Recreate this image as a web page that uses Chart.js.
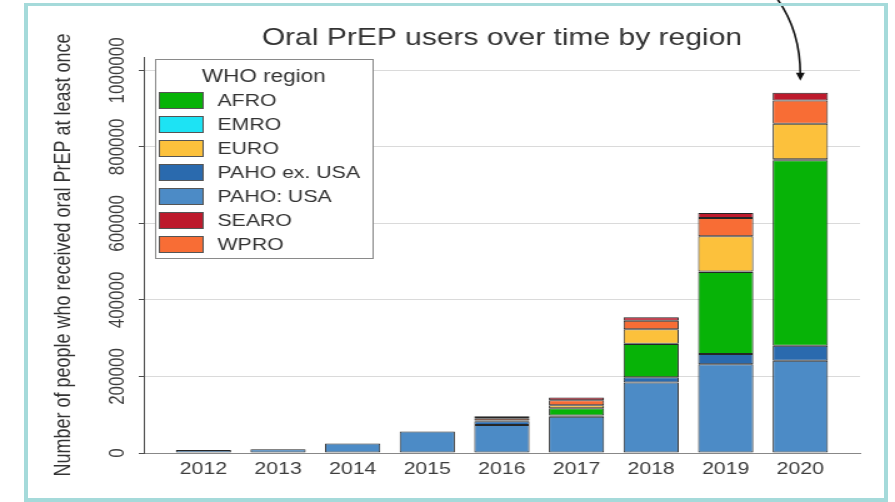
<!DOCTYPE html>
<html>
<head>
<meta charset="utf-8">
<script src="https://cdn.jsdelivr.net/npm/chart.js@4.4.1/dist/chart.umd.min.js"></script>
<style>
  html, body { margin: 0; padding: 0; background: #fff; }
  #wrap { position: relative; width: 895px; height: 502px; overflow: hidden; }
  #frame { position: absolute; left: 24px; top: 3px; width: 864px; height: 499px; box-sizing: border-box;
           border: 4px solid #a5dada; border-top-width: 3px; pointer-events: none; }
</style>
</head>
<body>
<div id="wrap">
  <!-- the reference is stretched sideways, so the canvas is drawn narrow and widened by its inline style -->
  <canvas id="chart" width="716" height="502" style="position:absolute;left:0;top:0;width:895px;height:502px"></canvas>
  <div id="frame"></div>
</div>
<script>
const chartTitle = "Oral PrEP users over time by region";
const yTitle = "Number of people who received oral PrEP at least once";
const legendTitle = "WHO region";

const years = [2012, 2013, 2014, 2015, 2016, 2017, 2018, 2019, 2020];
const yTicks = [0, 200000, 400000, 600000, 800000, 1000000];

// people per region and year
const pahoUsa   = [8000, 10000, 25000, 56000, 73000, 95000, 184000, 232000, 241000];
const pahoExUsa = [0, 0, 0, 0, 10000, 3000, 14000, 27000, 39000];
const afro      = [0, 0, 0, 0, 500, 19000, 87000, 214000, 485000];
const emro      = [0, 0, 0, 0, 0, 0, 500, 1500, 2500];
const euro      = [0, 0, 0, 0, 1500, 8000, 38000, 92000, 93000];
const wpro      = [0, 0, 0, 0, 6000, 13000, 22000, 48000, 61000];
const searo     = [0, 0, 0, 0, 5000, 7000, 9000, 13000, 20000];

const legendOrder = ["AFRO", "EMRO", "EURO", "PAHO ex. USA", "PAHO: USA", "SEARO", "WPRO"];
const stackOrder = ["PAHO: USA", "PAHO ex. USA", "AFRO", "EMRO", "EURO", "WPRO", "SEARO"];

const seriesData = {
  "AFRO": afro, "EMRO": emro, "EURO": euro, "PAHO ex. USA": pahoExUsa,
  "PAHO: USA": pahoUsa, "SEARO": searo, "WPRO": wpro
};
const regionColors = {
  "AFRO": "#07b307", "EMRO": "#1de3f4", "EURO": "#fcc13c", "PAHO ex. USA": "#2a6aae",
  "PAHO: USA": "#4c8bc6", "SEARO": "#bd1a2c", "WPRO": "#f86d35"
};

const FONT = "'Liberation Sans', Arial, Helvetica, sans-serif";
Chart.defaults.font.family = FONT;

function yearTotal(i) {
  return stackOrder.reduce((s, name) => s + seriesData[name][i], 0);
}

// legend box sits inside the plot, like the ggplot one
const legendPlugin = {
  id: "whoLegend",
  afterDatasetsDraw(chart) {
    const ctx = chart.ctx;
    const bx = 124, by = 59, bw = 174, bh = 199;
    ctx.save();
    ctx.fillStyle = "#fff";
    ctx.fillRect(bx, by, bw, bh);
    ctx.strokeStyle = "#8a8a8a";
    ctx.lineWidth = 1;
    ctx.strokeRect(bx + 0.5, by + 0.5, bw, bh);
    ctx.fillStyle = "#333";
    ctx.font = "18px " + FONT;
    ctx.textAlign = "center";
    ctx.textBaseline = "middle";
    ctx.fillText(legendTitle, bx + bw / 2, by + 18);
    ctx.font = "17px " + FONT;
    ctx.textAlign = "left";
    legendOrder.forEach((name, i) => {
      const cy = by + 41 + i * 24;
      ctx.fillStyle = regionColors[name];
      ctx.fillRect(bx + 3, cy - 8, 35, 16);
      ctx.strokeStyle = "#555";
      ctx.strokeRect(bx + 3.5, cy - 7.5, 35, 16);
      ctx.fillStyle = "#333";
      ctx.fillText(name, bx + 50, cy + 1);
    });
    ctx.restore();
  }
};

// curved arrow pointing at the 2020 bar
const arrowPlugin = {
  id: "arrow",
  afterDraw(chart) {
    const { ctx, scales: { x, y } } = chart;
    const last = years.length - 1;
    const cx = x.getPixelForValue(years[last]);
    const tip = y.getPixelForValue(yearTotal(last)) - 12;
    ctx.save();
    ctx.strokeStyle = "#111";
    ctx.fillStyle = "#111";
    ctx.lineWidth = 1.6;
    ctx.beginPath();
    ctx.moveTo(cx - 19, -2);
    ctx.quadraticCurveTo(cx, 30, cx, tip - 6);
    ctx.stroke();
    ctx.beginPath();
    ctx.moveTo(cx, tip);
    ctx.lineTo(cx - 3.5, tip - 8);
    ctx.lineTo(cx + 3.5, tip - 8);
    ctx.closePath();
    ctx.fill();
    ctx.restore();
  }
};

new Chart(document.getElementById("chart"), {
  type: "bar",
  data: {
    labels: years,
    datasets: stackOrder.map(name => ({
      label: name,
      data: seriesData[name],
      backgroundColor: regionColors[name],
      borderColor: "#262626",
      borderWidth: 1,
      borderSkipped: false,
      barPercentage: 0.74,
      categoryPercentage: 1
    }))
  },
  options: {
    responsive: false,
    devicePixelRatio: 1,
    animation: false,
    layout: { padding: { left: 0, right: 28, top: 0, bottom: 0 } },
    plugins: {
      legend: { display: false },
      tooltip: { enabled: false },
      title: {
        display: true,
        text: chartTitle,
        color: "#333",
        font: { size: 24, weight: "normal" },
        padding: { top: 23.6, bottom: 4.6 },
        fullSize: false
      }
    },
    scales: {
      x: {
        type: "linear",
        stacked: true,
        offset: false,
        bounds: "data",
        min: years[0] - 0.8,
        max: years[years.length - 1] + 0.8,
        afterBuildTicks: s => { s.ticks = years.map(v => ({ value: v })); },
        afterFit: s => { s.height = 49; },
        grid: { display: false, drawTicks: false, offset: false },
        border: { display: true, color: "#888", width: 1 },
        ticks: { padding: 6, color: "#3d3d3d", font: { size: 17 }, maxRotation: 0, autoSkip: false,
                 callback: v => String(v) }
      },
      y: {
        stacked: true,
        min: 0,
        max: 1035000,
        afterBuildTicks: s => { s.ticks = yTicks.map(v => ({ value: v })); },
        afterFit: s => { s.width = 115; },
        grid: { color: "#dadada", lineWidth: 1, drawTicks: true, tickLength: 4, tickColor: "#4d4d4d" },
        border: { display: true, color: "#4d4d4d", width: 1 },
        ticks: { minRotation: 90, maxRotation: 90, crossAlign: "center", padding: -16.6,
                 color: "#3d3d3d", font: { size: 17 }, callback: v => String(v) },
        title: { display: true, text: yTitle, color: "#333", font: { size: 18 },
                 padding: { top: 40, bottom: 0 } }
      }
    }
  },
  plugins: [legendPlugin, arrowPlugin]
});
</script>
</body>
</html>
